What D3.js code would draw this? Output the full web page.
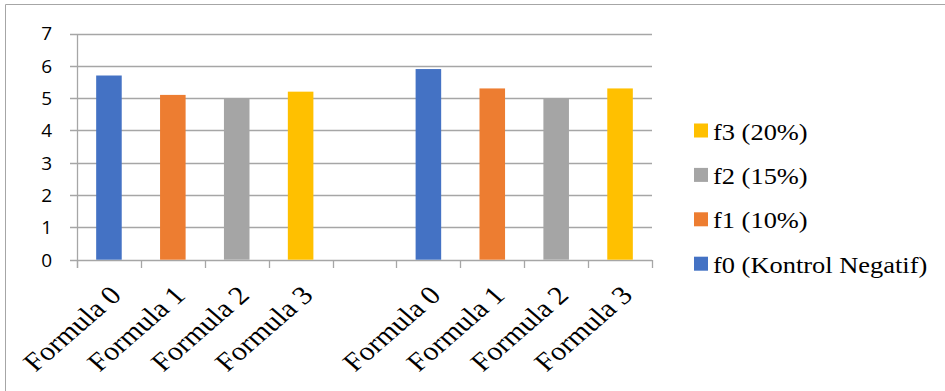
<!DOCTYPE html>
<html><head><meta charset="utf-8">
<script src="https://cdn.jsdelivr.net/npm/d3@7"></script>
<style>html,body{margin:0;padding:0;background:#fff;}
.serif{font-family:"Liberation Serif","Times New Roman","DejaVu Serif","Noto Serif",Times,serif;}
.sans{font-family:"Open Sans","Noto Sans","Liberation Sans",sans-serif;}
</style>
</head><body>
<svg id="chart" width="945" height="391"></svg>
<script>
const categories = ["Formula 0","Formula 1","Formula 2","Formula 3","","Formula 0","Formula 1","Formula 2","Formula 3"];
const seriesNames = ["f0 (Kontrol Negatif)","f1 (10%)","f2 (15%)","f3 (20%)"];
const seriesColors = ["#4472C4","#ED7D31","#A5A5A5","#FFC000"];
const f0 = [5.7,null,null,null,null,5.9,null,null,null];
const f1 = [null,5.1,null,null,null,null,5.3,null,null];
const f2 = [null,null,5.0,null,null,null,null,5.0,null];
const f3 = [null,null,null,5.2,null,null,null,null,5.3];
const yTicks = [0,1,2,3,4,5,6,7];

const series = [f0,f1,f2,f3];
const svg = d3.select("#chart");
const gridColor = "#a6a6a6";
const k = 1.15;

svg.append("path").attr("d","M5.5,400 V4.5 H950").attr("fill","none").attr("stroke","#a6a6a6").attr("stroke-width",1);

const x0 = 77, x1 = 652, yTop = 33.5, yBot = 259.7;
const x = d3.scaleBand().domain(d3.range(categories.length)).range([x0,x1]).paddingInner(0.6).paddingOuter(0.3);
const y = d3.scaleLinear().domain([0,7]).range([yBot,yTop]);

svg.append("g").selectAll("line").data(yTicks).join("line")
  .attr("x1",x0-7).attr("x2",x1).attr("y1",d=>Math.round(y(d))+0.5).attr("y2",d=>Math.round(y(d))+0.5)
  .attr("stroke",gridColor).attr("stroke-width",1.3);
svg.append("line").attr("x1",x0+0.5).attr("x2",x0+0.5).attr("y1",Math.round(yTop)).attr("y2",Math.round(yBot)+8)
  .attr("stroke",gridColor).attr("stroke-width",1.3);
const step = x.step();
svg.append("g").selectAll("line").data(d3.range(categories.length+1)).join("line")
  .attr("x1",i=>Math.round(x0+i*step)+0.5).attr("x2",i=>Math.round(x0+i*step)+0.5)
  .attr("y1",Math.round(yBot)).attr("y2",Math.round(yBot)+8)
  .attr("stroke",gridColor).attr("stroke-width",1.3);

svg.append("g").selectAll("text").data(yTicks).join("text")
  .attr("class","sans")
  .attr("x",52).attr("y",d=>y(d)).attr("dy","0.36em").attr("text-anchor","end")
  .attr("font-size",19).attr("fill","#000")
  .text(d=>d);

series.forEach((s,si)=>{
  svg.append("g").selectAll("rect").data(s.map((v,i)=>({v,i})).filter(d=>d.v!=null)).join("rect")
    .attr("x",d=>x(d.i)).attr("width",x.bandwidth())
    .attr("y",d=>y(d.v)).attr("height",d=>y(0)-y(d.v))
    .attr("fill",seriesColors[si]);
});

svg.append("g").selectAll("text").data(categories.map((c,i)=>({c,i}))).join("text")
  .attr("class","serif")
  .style("font-family","'Liberation Serif', serif")
  .attr("transform",d=>`translate(${x(d.i)+x.bandwidth()/2+14},${yBot+37}) scale(${k},1) rotate(-45)`)
  .attr("text-anchor","end")
  .attr("font-size",26).attr("fill","#000")
  .text(d=>d.c);

const legendOrder = [3,2,1,0];
const lg = svg.append("g").selectAll("g").data(legendOrder).join("g")
  .attr("transform",(d,i)=>`translate(694,${130.5+i*44.4})`);
lg.append("rect").attr("x",0).attr("y",-7).attr("width",14).attr("height",14).attr("fill",d=>seriesColors[d]);
lg.append("text").attr("class","serif")
  .style("font-family","'Liberation Serif', serif")
  .attr("transform",`translate(19,9) scale(${k},1)`)
  .attr("font-size",23).attr("fill","#000")
  .text(d=>seriesNames[d]);
</script>
</body></html>
